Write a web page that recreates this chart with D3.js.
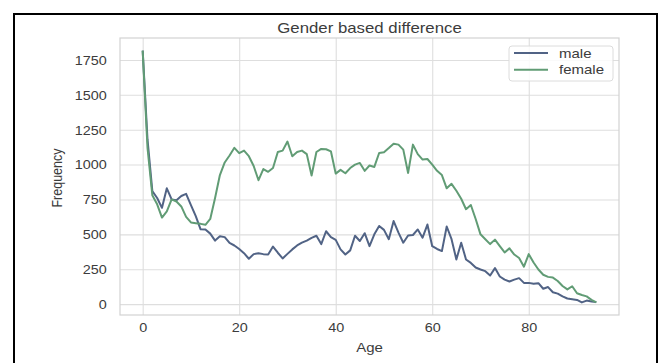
<!DOCTYPE html>
<html><head><meta charset="utf-8">
<script src="https://cdn.jsdelivr.net/npm/d3@7"></script>
<style>
body{margin:0;background:#fff}
svg{display:block}
text{font-family:"Liberation Sans",Arial,sans-serif;fill:#3c3c3c}
</style>
</head><body>
<svg id="c" width="659" height="363"></svg>
<script>
const ages=[0,1,2,3,4,5,6,7,8,9,10,11,12,13,14,15,16,17,18,19,20,21,22,23,24,25,26,27,28,29,30,31,32,33,34,35,36,37,38,39,40,41,42,43,44,45,46,47,48,49,50,51,52,53,54,55,56,57,58,59,60,61,62,63,64,65,66,67,68,69,70,71,72,73,74,75,76,77,78,79,80,81,82,83,84,85,86,87,88,89,90,91,92,93,94];
const male=[1817,1180,810,760,690,830,750,745,775,790,710,630,536,535,505,455,486,480,438,420,395,365,325,358,365,358,355,412,368,327,360,392,420,440,455,475,490,430,522,480,460,392,355,385,490,452,508,415,500,560,532,465,595,512,440,492,495,535,476,570,415,395,380,556,465,320,440,320,295,262,248,236,205,258,198,175,162,175,186,152,152,145,150,110,122,85,75,55,40,35,30,12,25,18,14];
const female=[1817,1120,780,715,620,665,750,735,700,625,585,580,575,568,610,760,925,1015,1065,1120,1082,1100,1060,990,888,968,948,975,1090,1100,1165,1060,1090,1100,1075,922,1090,1112,1110,1095,935,962,938,975,1000,1012,955,993,983,1083,1088,1118,1150,1143,1107,940,1143,1075,1036,1040,1000,955,925,830,862,812,755,680,710,610,500,465,430,462,415,370,400,355,330,268,358,298,248,210,195,190,165,130,105,128,78,65,55,30,12];
const yTicks=[0,250,500,750,1000,1250,1500,1750];
const xTicks=[0,20,40,60,80];
const seriesNames=["male","female"];
const seriesColors=["#516385","#619c75"];
const titleText="Gender based difference";
const xLabel="Age", yLabel="Frequency";

const SX=1.2; // horizontal stretch of the source picture
const P={l:120,r:619,t:38,b:315};
const svg=d3.select("#c");

// outer frame
svg.append("path").attr("d","M14,366V14H657V366").attr("fill","none").attr("stroke","#000").attr("stroke-width",2);

const xmin=0,xmax=d3.max(ages);
const all=male.concat(female);
const ymin=d3.min(all),ymax=d3.max(all);
const xm=(xmax-xmin)*0.05, ym=(ymax-ymin)*0.05;
const x=d3.scaleLinear().domain([xmin-xm,xmax+xm]).range([P.l,P.r]);
const y=d3.scaleLinear().domain([ymin-ym,ymax+ym]).range([P.b,P.t]);

// grid + tick labels
const gy=svg.append("g").attr("transform",`translate(${P.l},0)`)
  .call(d3.axisLeft(y).tickValues(yTicks).tickSize(-(P.r-P.l)).tickFormat(d3.format("d")));
const gx=svg.append("g").attr("transform",`translate(0,${P.b})`)
  .call(d3.axisBottom(x).tickValues(xTicks).tickSize(-(P.b-P.t)).tickFormat(d3.format("d")));
[gy,gx].forEach(g=>{
  g.select(".domain").remove();
  g.selectAll(".tick line").attr("stroke","#dedede").attr("stroke-width",1.1);
  g.selectAll(".tick text").attr("font-size",12).attr("fill","#444");
});
gy.selectAll(".tick text").attr("x",-11).attr("dy","0.36em").attr("transform",`scale(${SX},1)`);
gx.selectAll(".tick text").attr("y",13).attr("dy","0.36em").attr("transform",`scale(${SX},1)`);

// spines
svg.append("rect").attr("x",P.l).attr("y",P.t).attr("width",P.r-P.l).attr("height",P.b-P.t)
  .attr("fill","none").attr("stroke","#d2d2d2").attr("stroke-width",1.2);

// lines
const line=d3.line().x((d,i)=>x(ages[i])).y(d=>y(d));
[male,female].forEach((s,k)=>{
  svg.append("path").datum(s).attr("d",line).attr("fill","none")
    .attr("stroke",seriesColors[k]).attr("stroke-width",2).attr("stroke-linejoin","round");
});

// title & labels
svg.append("text").attr("transform",`translate(${(P.l+P.r)/2},33) scale(${SX},1)`)
  .attr("text-anchor","middle").attr("font-size",14).attr("fill","#444").text(titleText);
svg.append("text").attr("transform",`translate(${(P.l+P.r)/2},347) scale(${SX},1)`)
  .attr("text-anchor","middle").attr("dy","0.36em").attr("font-size",12.5).attr("fill","#444").text(xLabel);
svg.append("text").attr("transform",`translate(57,178) scale(${SX},1) rotate(-90)`)
  .attr("text-anchor","middle").attr("dy","0.36em").attr("font-size",12.5).attr("fill","#444").text(yLabel);

// legend
const lg=svg.append("g");
lg.append("rect").attr("x",509).attr("y",46).attr("width",104).attr("height",35).attr("rx",3)
  .attr("fill","#fff").attr("fill-opacity",0.85).attr("stroke","#dcdcdc").attr("stroke-width",1);
seriesNames.forEach((n,k)=>{
  const yy=53+k*16.7;
  lg.append("line").attr("x1",514).attr("x2",548).attr("y1",yy).attr("y2",yy)
    .attr("stroke",seriesColors[k]).attr("stroke-width",2);
  lg.append("text").attr("transform",`translate(559,${yy}) scale(${SX},1)`)
    .attr("dy","0.36em").attr("font-size",12.5).attr("fill","#444").text(n);
});
</script>
</body></html>
